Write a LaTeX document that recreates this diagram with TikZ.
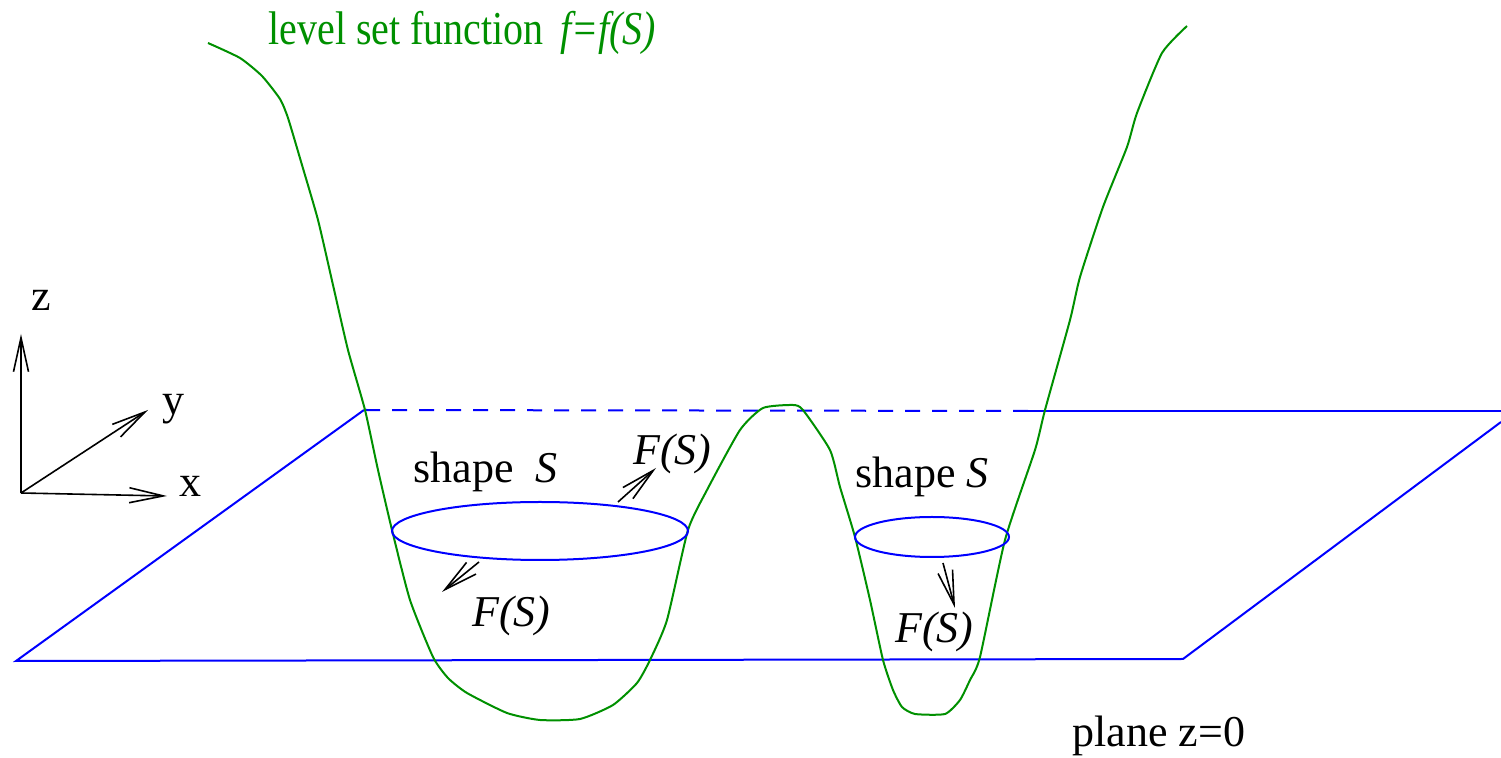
\documentclass[tikz,border=0pt]{standalone}
\usepackage{fontspec}
\setmainfont{Liberation Serif}
\usetikzlibrary{arrows.meta,shapes.geometric}
\definecolor{fgreen}{RGB}{0,144,0}
\definecolor{pblue}{RGB}{0,0,255}
\begin{document}
\begin{tikzpicture}[x=0.5pt,y=-0.5pt,
  planeline/.style={draw=pblue,line width=1pt},
  lsf/.style={draw=fgreen,line width=1pt},
  shapeS/.style={draw=pblue,line width=1pt,ellipse,inner sep=0pt},
  vec/.style={line width=0.8pt,-{Straight Barb[length=17pt,width=7.5pt,line width=0.8pt]}},
  lbl/.style={font=\fontsize{22}{26}\selectfont,inner sep=0pt,anchor=base west},
  ttl/.style={font=\fontsize{20}{24}\selectfont,inner sep=0pt,anchor=base west,text=fgreen}]
\useasboundingbox (0,0) rectangle (1501,758);
% plane corners
\coordinate (pbl) at (16,661);
\coordinate (ptl) at (364,410);
\coordinate (pdash) at (1028,411);
\coordinate (ptr) at (1501,411);
\coordinate (prt) at (1501,422);
\coordinate (pbr) at (1183,659);
\draw[planeline] (ptr) -- (pdash);
\draw[planeline,dash pattern=on 7.5pt off 6pt] (pdash) -- (ptl);
\draw[planeline] (ptl) -- (pbl) -- (pbr) -- (prt);
% level set function
\draw[lsf] plot[smooth,tension=0.35] coordinates {
 (208,43) (240,58) (262,76) (280,99) (288,118) (302,165) (318,220) (333,285)
 (348,350) (365,410) (378,470) (392,530) (410,600) (433,657) (448,678)
 (467,693) (507,713) (540,720) (580,719) (613,705) (637,683) (650,660) (667,620)
 (688,530) (707,490) (740,430) (763,408) (793,405) (803,410) (830,450) (840,487)
 (855,537) (870,600) (883,660) (893,690) (902,707) (915,714) (945,714) (960,700)
 (970,680) (980,657) (1005,540) (1035,450) (1045,410) (1070,320) (1080,277)
 (1103,207) (1127,147) (1137,113) (1162,53) (1187,26)};
% axes
\coordinate (o) at (21,493);
\coordinate (zt) at (21,334);
\coordinate (yt) at (148,410);
\coordinate (xt) at (167,496);
\draw[vec] (o) -- (zt);
\draw[vec] (o) -- (yt);
\draw[vec] (o) -- (xt);
\node[lbl] (zl) at (31,311) {z};
\node[lbl] (yl) at (162,415) {y};
\node[lbl] (xl) at (179,497) {x};
% title
\node[ttl] (title) at (268,45) {\scalebox{1}[1.18]{level set function}};
\node[ttl] (ftitle) at (560,45) {\scalebox{1}[1.18]{\itshape f=f(S)}};
% left shape
\node[shapeS,minimum width=148pt,minimum height=29pt] (S1) at (540,531) {};
\node[lbl] (S1l) at (413,483) {shape~~\itshape S};
\coordinate (a1s) at (618,502);
\coordinate (a1e) at (656,468);
\draw[vec] (a1s) -- (a1e);
\node[lbl] (F1) at (633,465) {\itshape F(S)};
\coordinate (a2s) at (479,562);
\coordinate (a2e) at (442,592);
\draw[vec] (a2s) -- (a2e);
\node[lbl] (F2) at (472,627) {\itshape F(S)};
% right shape
\node[shapeS,minimum width=77pt,minimum height=20pt] (S2) at (932,537) {};
\node[lbl] (S2l) at (855,488) {shape~\itshape S};
\coordinate (a3s) at (943,563);
\coordinate (a3e) at (955,608);
\draw[vec] (a3s) -- (a3e);
\node[lbl] (F3) at (895,643) {\itshape F(S)};
% plane label
\node[lbl] (pl) at (1072,747) {plane z=0};
\end{tikzpicture}
\end{document}
